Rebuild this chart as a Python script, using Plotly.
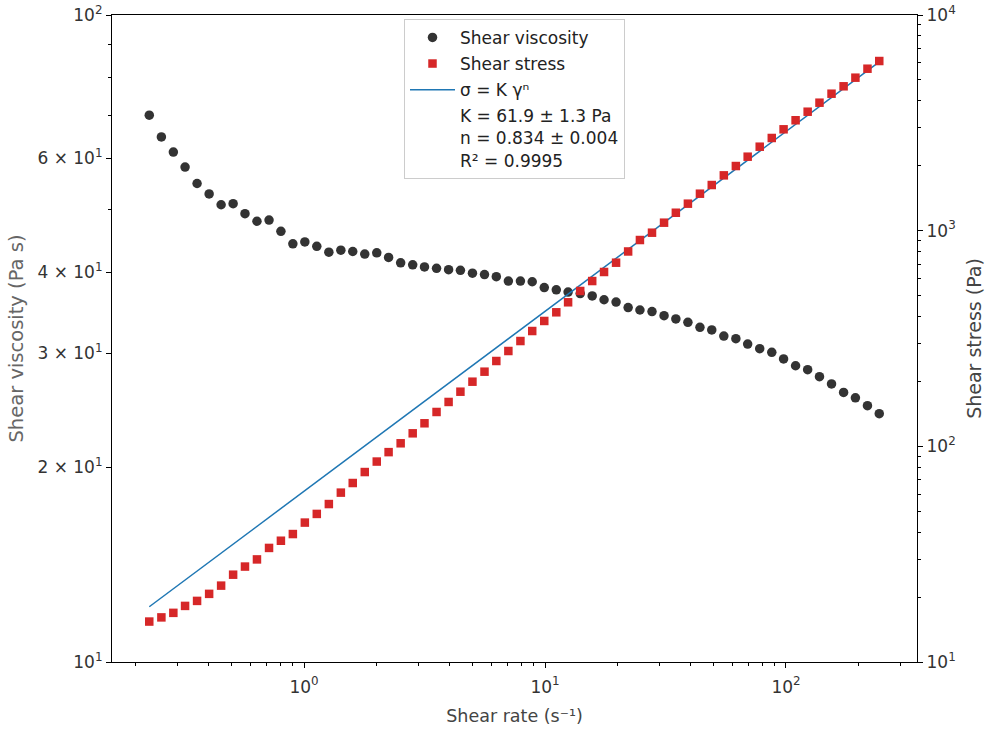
import plotly.graph_objects as go

# ---- data ----
shear_rate = [0.228, 0.256, 0.287, 0.321, 0.360, 0.404, 0.453, 0.508, 0.569, 0.638,
              0.716, 0.802, 0.899, 1.008, 1.130, 1.268, 1.422, 1.593, 1.787, 2.004,
              2.244, 2.518, 2.825, 3.162, 3.548, 3.981, 4.457, 5.000, 5.610, 6.281,
              7.047, 7.907, 8.851, 9.931, 11.14, 12.47, 14.00, 15.70, 17.58, 19.72,
              22.13, 24.77, 27.80, 31.19, 34.91, 39.17, 43.95, 49.20, 55.21, 61.94,
              69.34, 77.80, 87.30, 97.72, 109.6, 123.0, 137.7, 154.5, 173.4, 194.1,
              217.8, 243.8]

viscosity = [70.0, 64.8, 61.4, 58.2, 54.9, 52.9, 50.9, 51.1, 49.3, 48.0,
             48.2, 46.3, 44.3, 44.6, 43.9, 43.0, 43.3, 43.1, 42.7, 42.9,
             42.2, 41.4, 41.1, 40.8, 40.6, 40.4, 40.3, 39.9, 39.7, 39.4,
             38.8, 38.8, 38.7, 37.9, 37.6, 37.3, 37.1, 36.8, 36.3, 36.0,
             35.3, 35.0, 34.8, 34.3, 33.9, 33.5, 32.9, 32.6, 31.9, 31.6,
             31.0, 30.5, 30.1, 29.4, 28.7, 28.3, 27.6, 26.9, 26.1, 25.6,
             24.9, 24.2]

stress = [15.4, 16.1, 16.9, 18.2, 19.2, 20.7, 22.6, 25.4, 27.7, 29.9,
          33.8, 36.5, 39.2, 44.3, 48.6, 54.0, 61.0, 67.6, 76.0, 85.0,
          94.0, 103.3, 114.9, 127.9, 144.3, 160.6, 179.2, 199.4, 221.9, 248.7,
          276.7, 307.8, 342.5, 381.3, 418.3, 465.5, 525.2, 584.0, 643.3, 710.4,
          800.8, 905.0, 978.6, 1089, 1211, 1334, 1484, 1628, 1805, 1994,
          2203, 2451, 2690, 2951, 3250, 3561, 3921, 4316, 4671, 5121,
          5636, 6118]

# power-law fit parameters (from the legend)
K_fit = 61.9
n_fit = 0.834
fit_stress = [K_fit * g ** n_fit for g in shear_rate]

# tick labels
x_major = [1, 10, 100]
x_major_text = ["10<sup>0</sup>", "10<sup>1</sup>", "10<sup>2</sup>"]
x_minor = [0.2, 0.3, 0.4, 0.5, 0.6, 0.7, 0.8, 0.9,
           2, 3, 4, 5, 6, 7, 8, 9,
           20, 30, 40, 50, 60, 70, 80, 90, 200, 300]

y1_major = [10, 20, 30, 40, 60, 100]
y1_major_text = ["10<sup>1</sup>", "2 × 10<sup>1</sup>", "3 × 10<sup>1</sup>",
                 "4 × 10<sup>1</sup>", "6 × 10<sup>1</sup>", "10<sup>2</sup>"]
y1_minor = [50, 70, 80, 90]

y2_major = [10, 100, 1000, 10000]
y2_major_text = ["10<sup>1</sup>", "10<sup>2</sup>", "10<sup>3</sup>", "10<sup>4</sup>"]
y2_minor = [20, 30, 40, 50, 60, 70, 80, 90,
            200, 300, 400, 500, 600, 700, 800, 900,
            2000, 3000, 4000, 5000, 6000, 7000, 8000, 9000]

FONT = "DejaVu Sans"

fig = go.Figure()

fig.add_trace(go.Scatter(
    x=shear_rate, y=viscosity, mode="markers", name="Shear viscosity",
    marker=dict(symbol="circle", size=9.5, color="#333333"),
    yaxis="y", legendrank=1, legendgroup="a"))

fig.add_trace(go.Scatter(
    x=shear_rate, y=fit_stress, mode="lines", name="σ = K γⁿ",
    line=dict(color="#1f77b4", width=1.5),
    yaxis="y2", legendrank=3, legendgroup="c"))

fig.add_trace(go.Scatter(
    x=shear_rate, y=stress, mode="markers", name="Shear stress",
    marker=dict(symbol="square", size=8.5, color="#d62728"),
    yaxis="y2", legendrank=2, legendgroup="b"))

fig.add_trace(go.Scatter(
    x=[None], y=[None], mode="markers",
    name="K = 61.9 ± 1.3 Pa<br>n = 0.834 ± 0.004<br>R² = 0.9995",
    marker=dict(size=0, color="rgba(0,0,0,0)", opacity=0),
    yaxis="y2", legendrank=4, legendgroup="d"))

axis_common = dict(
    type="log", showgrid=False, zeroline=False, showline=True,
    linecolor="black", linewidth=1.2, ticks="outside", ticklen=5,
    tickwidth=1, tickcolor="black", automargin=False,
    ticklabeloverflow="allow",
    tickfont=dict(family=FONT, size=17, color="#333333"),
)

fig.update_layout(
    width=986, height=729,
    margin=dict(l=112, r=69, t=15, b=67),
    paper_bgcolor="white", plot_bgcolor="white",
    font=dict(family=FONT, color="#333333"),
    xaxis=dict(
        **axis_common,
        range=[-0.7967, 2.5436], mirror=True,
        tickmode="array", tickvals=x_major, ticktext=x_major_text,
        ticklabelstandoff=4,
        minor=dict(tickmode="array", tickvals=x_minor, ticks="outside",
                   ticklen=3, tickwidth=0.8, tickcolor="black", showgrid=False),
        title=dict(text="Shear rate (s⁻¹)", standoff=14,
                   font=dict(family=FONT, size=17.5, color="#444444")),
    ),
    yaxis=dict(
        **axis_common,
        range=[1, 2], side="left",
        tickmode="array", tickvals=y1_major, ticktext=y1_major_text,
        minor=dict(tickmode="array", tickvals=y1_minor, ticks="outside",
                   ticklen=3, tickwidth=0.8, tickcolor="black", showgrid=False),
        title=dict(text="Shear viscosity (Pa s)", standoff=8,
                   font=dict(family=FONT, size=19.5, color="#666666")),
    ),
    yaxis2=dict(
        **axis_common,
        range=[1, 4], side="right", overlaying="y",
        tickmode="array", tickvals=y2_major, ticktext=y2_major_text,
        minor=dict(tickmode="array", tickvals=y2_minor, ticks="outside",
                   ticklen=3, tickwidth=0.8, tickcolor="black", showgrid=False),
        title=dict(text="Shear stress (Pa)", standoff=12,
                   font=dict(family=FONT, size=19, color="#444444")),
    ),
    legend=dict(
        x=0.5, xanchor="center", y=0.994, yanchor="top",
        bgcolor="white", bordercolor="#cccccc", borderwidth=1,
        font=dict(family=FONT, size=17, color="#222222"),
        traceorder="grouped", tracegroupgap=1,
        itemsizing="trace", itemwidth=45,
    ),
    showlegend=True,
)

# remove the default 8 px page margin so the figure fills the window exactly
fig.write_html("out.html",
               config={"displayModeBar": False},
               post_script="document.body.style.margin='0';"
                           "document.body.style.overflow='hidden';")
